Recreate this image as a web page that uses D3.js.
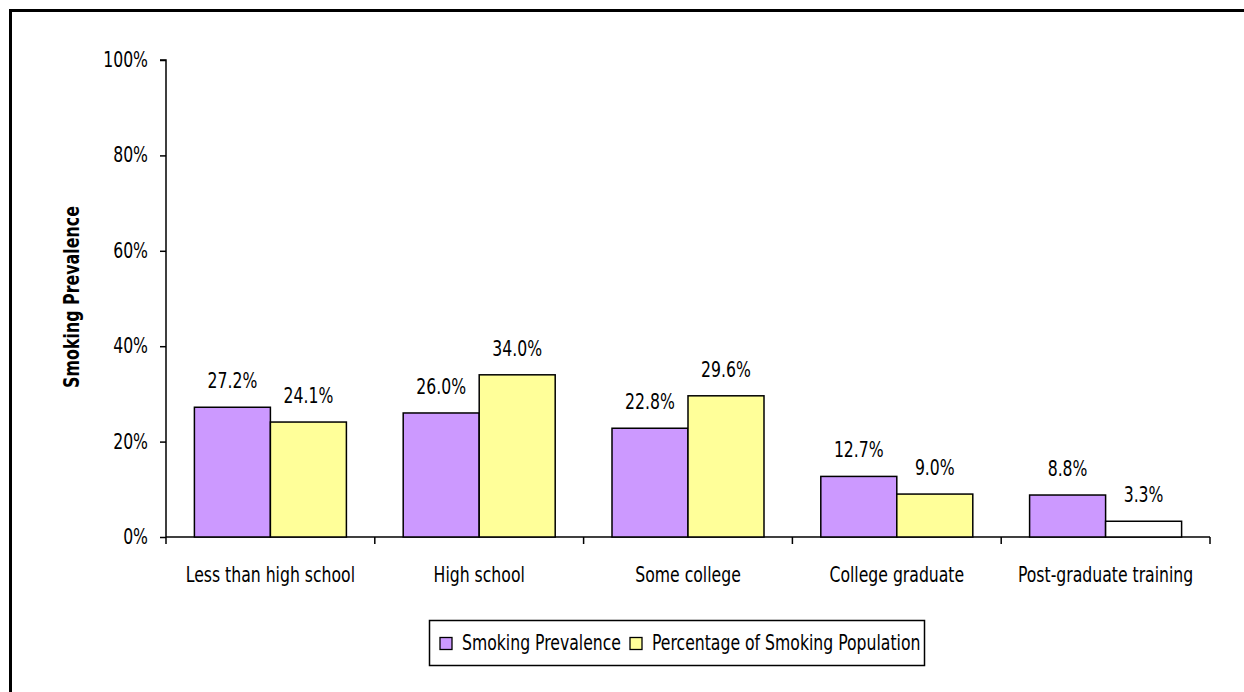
<!DOCTYPE html>
<html><head><meta charset="utf-8">
<script src="https://cdn.jsdelivr.net/npm/d3@7"></script>
<style>
html,body{margin:0;padding:0;background:#fff;}
svg text{font-family:"DejaVu Sans Condensed","Liberation Sans Narrow","Noto Sans",sans-serif;fill:#000;}
</style></head>
<body>
<svg id="chart" width="1244" height="692"></svg>
<script>
const categories = ["Less than high school","High school","Some college","College graduate","Post-graduate training"];
const seriesNames = ["Smoking Prevalence","Percentage of Smoking Population"];
const prevalence = [27.2, 26.0, 22.8, 12.7, 8.8];
const population = [24.1, 34.0, 29.6, 9.0, 3.3];
const populationFills = ["#FFFF99","#FFFF99","#FFFF99","#FFFF99","#FFFFFF"];
const yTicks = [0,20,40,60,80,100];
const colors = ["#CC99FF","#FFFF99"];

const FS = 20.5, SX = 0.85;
const FONT = '"DejaVu Sans Condensed","Liberation Sans Narrow",sans-serif';

const svg = d3.select("#chart");
// outer frame
svg.append("path").attr("d","M10.5,700 L10.5,10.5 L1260,10.5")
  .attr("fill","none").attr("stroke","#000").attr("stroke-width",3);

const m = {left:166, right:1210, top:60, bottom:537};
const x = d3.scaleBand().domain(categories).range([m.left,m.right]).paddingInner(0).paddingOuter(0);
const y = d3.scaleLinear().domain([0,100]).range([m.bottom,m.top]);
const sub = d3.scaleBand().domain([0,1]).range([0,x.bandwidth()]).paddingInner(0).paddingOuter(0.3737);

// y axis
const yAxis = d3.axisLeft(y).tickValues(yTicks).tickFormat(d=>d+"%").tickSize(6).tickPadding(12);
const gy = svg.append("g").attr("transform",`translate(${m.left},0)`).call(yAxis);
gy.select(".domain").attr("stroke","#000").attr("stroke-width",1.5).attr("d",`M-6,${m.top}H0V${m.bottom}`);
gy.selectAll(".tick line").attr("stroke","#000").attr("stroke-width",1.5);
gy.selectAll(".tick text").attr("font-size",FS).style("font-family",FONT);

// x axis
const xAxis = d3.axisBottom(x).tickSize(0).tickPadding(30.5);
const gx = svg.append("g").attr("transform",`translate(0,${m.bottom})`).call(xAxis);
gx.select(".domain").attr("stroke","#000").attr("stroke-width",1.5).attr("d",`M${m.left},0H${m.right}`);
gx.selectAll(".tick text").attr("font-size",FS).style("font-family",FONT);
// category boundary ticks
const bounds = categories.map(c=>x(c)).concat([m.right]);
gx.selectAll("line.bt").data(bounds).enter().append("line").attr("class","bt")
  .attr("x1",d=>d).attr("x2",d=>d).attr("y1",0).attr("y2",7)
  .attr("stroke","#000").attr("stroke-width",1.5);

// bars
const data = categories.map((c,i)=>({c, vals:[
  {s:0,v:prevalence[i],fill:colors[0]},
  {s:1,v:population[i],fill:populationFills[i]}]}));
const g = svg.append("g").selectAll("g").data(data).enter().append("g")
  .attr("transform",d=>`translate(${x(d.c)},0)`);
g.selectAll("rect").data(d=>d.vals).enter().append("rect")
  .attr("x",d=>sub(d.s)).attr("width",sub.bandwidth())
  .attr("y",d=>y(d.v)).attr("height",d=>y(0)-y(d.v))
  .attr("fill",d=>d.fill).attr("stroke","#000").attr("stroke-width",1.5);
g.selectAll("text").data(d=>d.vals).enter().append("text")
  .attr("class","sc")
  .attr("x",d=>sub(d.s)+sub.bandwidth()/2).attr("y",d=>y(d.v)-19)
  .attr("text-anchor","middle").attr("font-size",FS)
  .text(d=>d.v.toFixed(1)+"%");

// legend
const lg = svg.append("g");
lg.append("rect").attr("x",429.5).attr("y",620.5).attr("width",495).attr("height",45)
  .attr("fill","#fff").attr("stroke","#000").attr("stroke-width",1.5);
const legX = [440, 630];
const legTX = [462, 652];
seriesNames.forEach((n,i)=>{
  lg.append("rect").attr("x",legX[i]).attr("y",637.5).attr("width",12).attr("height",12)
    .attr("fill",colors[i]).attr("stroke","#000").attr("stroke-width",1.3);
  lg.append("text").attr("class","sc").attr("x",legTX[i]).attr("y",650).attr("font-size",FS).text(n);
});

// condense text horizontally (reference uses a condensed typeface)
svg.selectAll("text").each(function(){
  const t = d3.select(this);
  const tx = +t.attr("x") || 0;
  t.attr("transform",`translate(${tx*(1-SX)},0) scale(${SX},1)`);
});

// y title
svg.append("text").attr("transform",`translate(79,297) rotate(-90) scale(0.86,1)`)
  .attr("text-anchor","middle").attr("font-size",FS).attr("font-weight","bold")
  .text("Smoking Prevalence");
</script>
</body></html>
